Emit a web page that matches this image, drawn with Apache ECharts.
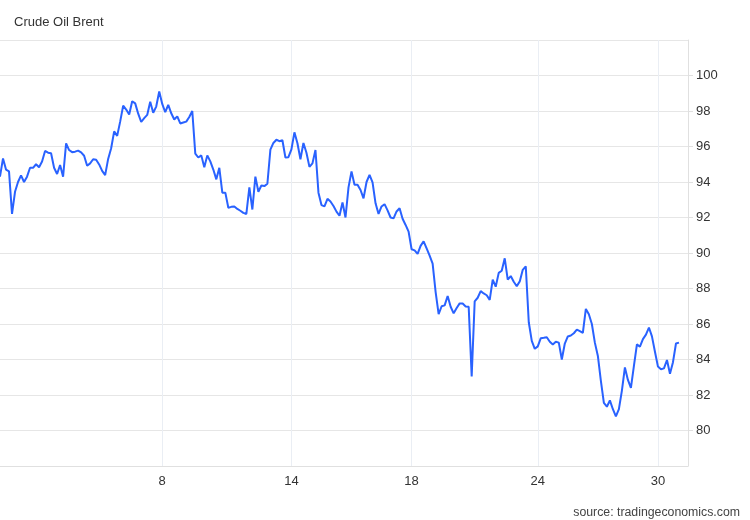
<!DOCTYPE html>
<html>
<head>
<meta charset="utf-8">
<script src="https://cdn.jsdelivr.net/npm/echarts@6/dist/echarts.min.js"></script>
<style>
  html, body { margin: 0; padding: 0; background: #fff; }
  #main { width: 750px; height: 520px; }
</style>
</head>
<body>
<div id="main"></div>
<script>
// Brent price, sampled evenly along the time axis
var prices = [
  94.30, 95.33, 94.70, 94.60, 92.20, 93.45, 94.00, 94.37, 94.00, 94.30,
  94.80, 94.80, 95.00, 94.83, 95.15, 95.75, 95.65, 95.62, 94.80, 94.45,
  94.96, 94.30, 96.18, 95.80, 95.68, 95.71, 95.77, 95.67, 95.48, 94.92,
  95.05, 95.28, 95.25, 94.99, 94.63, 94.39, 95.30, 95.90, 96.85, 96.60,
  97.40, 98.30, 98.08, 97.80, 98.55, 98.43, 97.85, 97.38, 97.60, 97.78,
  98.52, 97.90, 98.25, 99.10, 98.40, 97.93, 98.35, 97.87, 97.52, 97.70,
  97.30, 97.35, 97.40, 97.66, 98.00, 95.60, 95.38, 95.50, 94.83, 95.50,
  95.16, 94.70, 94.15, 94.80, 93.40, 93.40, 92.55, 92.60, 92.62, 92.48,
  92.38, 92.26, 92.20, 93.70, 92.45, 94.30, 93.45, 93.80, 93.77, 93.90,
  95.82, 96.20, 96.38, 96.30, 96.35, 95.38, 95.40, 95.84, 96.80, 96.18,
  95.28, 96.20, 95.65, 94.85, 95.05, 95.80, 93.40, 92.70, 92.63, 93.05,
  92.90, 92.65, 92.33, 92.10, 92.85, 92.00, 93.70, 94.60, 93.85, 93.85,
  93.55, 93.08, 94.00, 94.40, 93.98, 92.80, 92.20, 92.62, 92.75, 92.40,
  92.00, 91.95, 92.34, 92.52, 91.93, 91.58, 91.20, 90.21, 90.15, 89.95,
  90.40, 90.66, 90.26, 89.85, 89.40, 87.80, 86.55, 87.00, 87.05, 87.58,
  86.97, 86.60, 86.90, 87.16, 87.15, 86.99, 86.97, 83.05, 87.28, 87.48,
  87.85, 87.72, 87.62, 87.36, 88.50, 88.10, 88.88, 89.00, 89.70, 88.50,
  88.70, 88.38, 88.13, 88.40, 89.05, 89.25, 86.10, 85.05, 84.60, 84.74,
  85.20, 85.22, 85.25, 85.00, 84.85, 85.00, 84.95, 84.00, 84.90, 85.30,
  85.35, 85.48, 85.68, 85.60, 85.50, 86.85, 86.55, 86.00, 84.95, 84.20,
  82.80, 81.55, 81.34, 81.70, 81.20, 80.80, 81.20, 82.25, 83.55, 82.85,
  82.40, 83.64, 84.85, 84.72, 85.15, 85.40, 85.80, 85.30, 84.44, 83.60,
  83.45, 83.50, 83.97, 83.20, 83.85, 84.90, 84.95
];
// day-of-month tick labels and the sample index where each day starts
var tickDays = ['8', '14', '18', '24', '30'];
var tickIdx = [54, 97, 137, 179, 219];
var slots = 230;

var cats = [];
for (var i = 0; i < slots; i++) cats.push(String(i));
function isTick(i) { return tickIdx.indexOf(i) >= 0; }

var chart = echarts.init(document.getElementById('main'));
var font = 'Liberation Sans, Arial, sans-serif';
chart.setOption({
  animation: false,
  title: {
    text: 'Crude Oil Brent',
    left: 9, top: 11,
    textStyle: { fontSize: 13, fontWeight: 'normal', color: '#333', fontFamily: font }
  },
  graphic: [{
    type: 'text', right: 10, top: 507,
    style: { text: 'source: tradingeconomics.com', fill: '#444', font: '12.3px ' + font }
  }],
  grid: { left: 0, right: 62, top: 40, bottom: 54 },
  xAxis: {
    type: 'category',
    data: cats,
    boundaryGap: false,
    axisLine: { lineStyle: { color: '#e0e0e0' } },
    axisTick: { show: false },
    axisLabel: {
      interval: function (i) { return isTick(i); },
      formatter: function (v, i) { return tickDays[tickIdx.indexOf(i)]; },
      color: '#333', fontSize: 13, fontFamily: font, margin: 9
    },
    splitLine: {
      show: true,
      interval: function (i) { return isTick(i); },
      lineStyle: { color: '#eaeef4' }
    }
  },
  yAxis: {
    type: 'value',
    position: 'right',
    min: 78, max: 102, interval: 2,
    axisLine: { show: true, lineStyle: { color: '#e0e0e0' } },
    axisTick: { show: true, length: 5, lineStyle: { color: '#e0e0e0' } },
    axisLabel: { showMinLabel: false, showMaxLabel: false, color: '#333', fontSize: 13, fontFamily: font, margin: 8 },
    splitLine: { lineStyle: { color: '#e6e6e6' } }
  },
  series: [{
    type: 'line',
    data: prices,
    showSymbol: false,
    lineStyle: { color: '#2962ff', width: 2 },
    itemStyle: { color: '#2962ff' }
  }]
});
</script>
</body>
</html>
